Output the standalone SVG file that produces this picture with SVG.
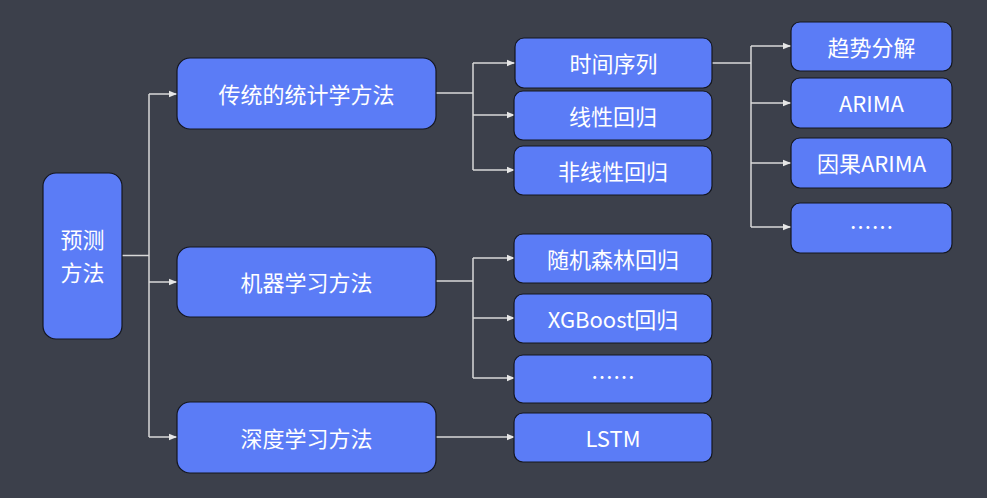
<svg xmlns="http://www.w3.org/2000/svg" width="987" height="498" viewBox="0 0 987 498">
<defs>
<marker id="arr" viewBox="0 0 8 8" refX="8" refY="4" markerWidth="8" markerHeight="8" markerUnits="userSpaceOnUse" orient="auto">
<path d="M0,0.8 L8,4 L0,7.2 Z" fill="#e6e6e6"/>
</marker>
<style>
.n rect{fill:#5b7cf6;stroke:#14161f;stroke-width:1.2}
.n text{fill:#ffffff;font-family:"Noto Sans CJK SC","Noto Sans",sans-serif;font-size:22px;text-anchor:middle;dominant-baseline:central}
.c path{fill:none;stroke:#d8d8d8;stroke-width:1.5}
.c .a{marker-end:url(#arr)}
</style>
</defs>
<rect width="987" height="498" fill="#3c404b"/>
<g class="c" id="connectors">
<path d="M122,255.5 H149"/>
<path d="M149,94 V437"/>
<path class="a" d="M149,94 H177"/>
<path class="a" d="M149,282 H177"/>
<path class="a" d="M149,437 H177"/>
<path d="M436,93 H473"/>
<path d="M473,63 V170"/>
<path class="a" d="M473,63 H515"/>
<path class="a" d="M473,115 H515"/>
<path class="a" d="M473,170 H515"/>
<path d="M436,281 H473"/>
<path d="M473,258 V378"/>
<path class="a" d="M473,258 H515"/>
<path class="a" d="M473,318 H515"/>
<path class="a" d="M473,378 H515"/>
<path class="a" d="M436,437 H515"/>
<path d="M712,63 H751"/>
<path d="M751,46 V227"/>
<path class="a" d="M751,46 H791"/>
<path class="a" d="M751,103 H791"/>
<path class="a" d="M751,163 H791"/>
<path class="a" d="M751,227 H791"/>
</g>
<g class="n" id="n-root"><rect x="43" y="173" width="79" height="166" rx="13"/><text x="82.5" y="238">预测</text><text x="82.5" y="271">方法</text></g>
<g class="n" id="n-stat"><rect x="177" y="58" width="259" height="71" rx="13"/><text x="306.5" y="92.5">传统的统计学方法</text></g>
<g class="n" id="n-ml"><rect x="177" y="247" width="259" height="70" rx="13"/><text x="306.5" y="281">机器学习方法</text></g>
<g class="n" id="n-dl"><rect x="177" y="402" width="259" height="71" rx="13"/><text x="306.5" y="436.5">深度学习方法</text></g>
<g class="n" id="n-ts"><rect x="515" y="38" width="197" height="50" rx="9"/><text x="613.5" y="62">时间序列</text></g>
<g class="n" id="n-lin"><rect x="514" y="91" width="198" height="49" rx="9"/><text x="613" y="114.5">线性回归</text></g>
<g class="n" id="n-nonlin"><rect x="514" y="146" width="198" height="49" rx="9"/><text x="613" y="169.5">非线性回归</text></g>
<g class="n" id="n-rf"><rect x="514" y="234" width="198" height="49" rx="9"/><text x="613" y="257.5">随机森林回归</text></g>
<g class="n" id="n-xgb"><rect x="514" y="294" width="198" height="49" rx="9"/><text x="613" y="317.5">XGBoost回归</text></g>
<g class="n" id="n-more2"><rect x="514" y="355" width="198" height="48" rx="9"/><text x="613" y="375">……</text></g>
<g class="n" id="n-lstm"><rect x="514" y="413" width="198" height="49" rx="9"/><text x="613" y="436.5">LSTM</text></g>
<g class="n" id="n-trend"><rect x="791" y="22" width="161" height="49" rx="9"/><text x="871.5" y="45.5">趋势分解</text></g>
<g class="n" id="n-arima"><rect x="791" y="78" width="161" height="50" rx="9"/><text x="871.5" y="102">ARIMA</text></g>
<g class="n" id="n-carima"><rect x="791" y="138" width="161" height="50" rx="9"/><text x="871.5" y="162">因果ARIMA</text></g>
<g class="n" id="n-more1"><rect x="791" y="203" width="161" height="50" rx="9"/><text x="871.5" y="225">……</text></g>
</svg>
